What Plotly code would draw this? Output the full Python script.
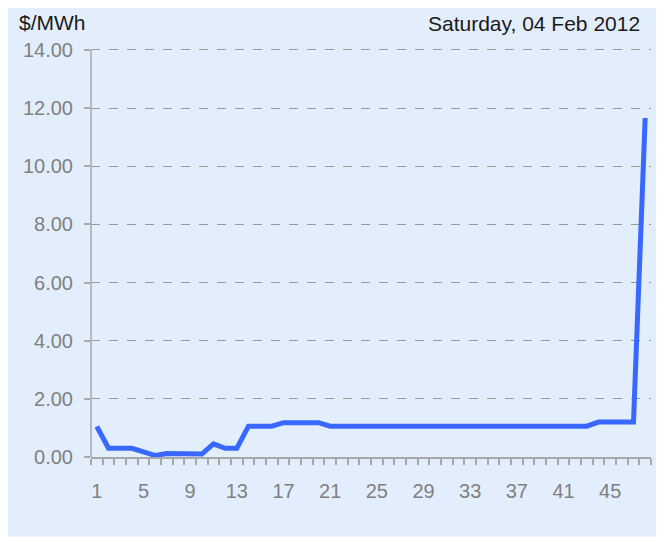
import plotly.graph_objects as go

periods = list(range(1, 49))
prices = [1.05, 0.30, 0.30, 0.30, 0.18, 0.05, 0.12, 0.12, 0.08, 0.10,
          0.45, 0.30, 0.30, 1.06, 1.06, 1.06, 1.18, 1.18, 1.18, 1.18,
          1.06, 1.06, 1.06, 1.06, 1.06, 1.06, 1.06, 1.06, 1.06, 1.06,
          1.06, 1.06, 1.06, 1.06, 1.06, 1.06, 1.06, 1.06, 1.06, 1.06,
          1.06, 1.06, 1.06, 1.20, 1.20, 1.20, 1.20, 11.66]
x_tick_vals = list(range(1, 49, 4))
y_tick_vals = [0, 2, 4, 6, 8, 10, 12, 14]
y_tick_text = [f"{v:.2f}" for v in y_tick_vals]
unit_label = "$/MWh"
date_label = "Saturday, 04 Feb 2012"

OFF = 8  # browser body margin
W, H = 664 - OFF, 542 - OFF
# plot area in window pixel coordinates (14.00 gridline at y=50, 0 at 457.5)
X0, X1, Y0, Y1 = 91, 651, 44, 457.5
YMAX = 14 * (Y1 - Y0) / (Y1 - 50)
L, R, T, B = X0 - OFF, 664 - X1, Y0 - OFF, 542 - Y1
pw, ph = X1 - X0, Y1 - Y0

def px(x):
    return (x - X0) / pw

def py(y):
    return (Y1 - y) / ph

BG = "#E3EEFC"
GRID = "#9A9A9A"
AXIS = "#A8A8A8"
FONT = "Liberation Sans, Arial, sans-serif"

fig = go.Figure()
fig.add_trace(go.Scatter(
    x=periods, y=prices, mode="lines",
    line=dict(color="#3868FF", width=5),
    hoverinfo="skip", showlegend=False,
))

fig.update_layout(
    width=W, height=H,
    margin=dict(l=L, r=R, t=T, b=B, pad=0),
    paper_bgcolor="white",
    plot_bgcolor=BG,
    font=dict(family=FONT, size=20, color="#808080"),
    xaxis=dict(
        range=[0.5, 48.5], tickmode="array", tickvals=x_tick_vals,
        ticks="", showgrid=False, zeroline=False,
        showline=True, linecolor=AXIS, linewidth=1.5,
        tickfont=dict(size=20, color="#808080"),
        ticklabelstandoff=15,
        minor=dict(tickvals=[i + 0.5 for i in range(0, 49)], ticks="outside",
                   ticklen=6, tickcolor=AXIS, tickwidth=1.5, showgrid=False),
        fixedrange=True,
    ),
    yaxis=dict(
        range=[0, YMAX], tickmode="array", tickvals=y_tick_vals, ticktext=y_tick_text,
        ticks="outside", ticklen=6, tickcolor=AXIS, tickwidth=1.5,
        showgrid=True, gridcolor=GRID, griddash="dash", gridwidth=1,
        zeroline=False, showline=False,
        tickfont=dict(size=20, color="#808080"),
        ticklabelstandoff=7,
        fixedrange=True,
    ),
    shapes=[
        dict(type="rect", xref="paper", yref="paper", layer="below",
             x0=px(OFF), x1=px(659), y0=py(537), y1=py(OFF),
             fillcolor=BG, line=dict(width=0)),
        # y axis line spanning only the tick range
        dict(type="line", xref="paper", yref="y", layer="above",
             x0=0, x1=0, y0=y_tick_vals[0], y1=y_tick_vals[-1],
             line=dict(color=AXIS, width=1.5)),
    ],
    annotations=[
        dict(text=unit_label, xref="paper", yref="paper", x=px(17), y=py(22),
             xanchor="left", yanchor="middle", showarrow=False,
             font=dict(size=21, color="#1A1A1A", family=FONT)),
        dict(text=date_label, xref="paper", yref="paper", x=px(642), y=py(23),
             xanchor="right", yanchor="middle", showarrow=False,
             font=dict(size=21, color="#1A1A1A", family=FONT)),
    ],
)

fig.write_html("out.html")
